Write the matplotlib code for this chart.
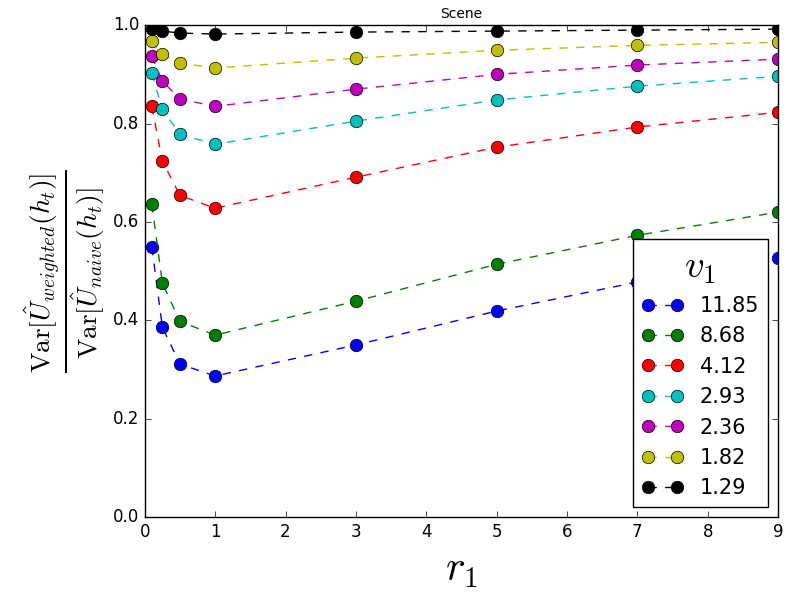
import matplotlib
matplotlib.use("Agg")
import matplotlib.pyplot as plt

plt.style.use('classic')

r1 = [0.1, 0.25, 0.5, 1, 3, 5, 7, 9]
v1_labels = ['11.85', '8.68', '4.12', '2.93', '2.36', '1.82', '1.29']
colors = ['b', 'g', 'r', 'c', 'm', 'y', 'k']

series = [
    [0.549, 0.386, 0.311, 0.287, 0.350, 0.419, 0.478, 0.526],
    [0.636, 0.476, 0.398, 0.370, 0.439, 0.514, 0.573, 0.620],
    [0.835, 0.724, 0.654, 0.628, 0.691, 0.752, 0.793, 0.823],
    [0.902, 0.829, 0.778, 0.758, 0.805, 0.848, 0.876, 0.896],
    [0.937, 0.886, 0.850, 0.835, 0.870, 0.900, 0.919, 0.931],
    [0.967, 0.941, 0.923, 0.913, 0.933, 0.949, 0.959, 0.965],
    [0.992, 0.988, 0.984, 0.982, 0.986, 0.988, 0.990, 0.992],
]

fig = plt.figure(figsize=(8, 6), dpi=100, facecolor='white')
ax = fig.add_axes([0.181, 0.138, 0.7915, 0.82])
for ys, c, lab in zip(series, colors, v1_labels):
    ax.plot(r1, ys, '--o', color=c, markersize=9, label=lab)

ax.set_xlim(0, 9)
ax.set_ylim(0, 1)
ax.set_title('Scene', fontsize=10)
ax.set_xlabel(r'$r_1$', fontsize=30)
ax.set_ylabel(r'$\frac{\mathrm{Var}[\hat{U}_{weighted}(h_t)]}{\mathrm{Var}[\hat{U}_{naive}(h_t)]}$', fontsize=28)
leg = ax.legend(loc='lower right', title=r'$v_1$', fontsize=15, numpoints=2)
leg.get_title().set_fontsize(28)

fig.savefig('out.png', dpi=100, facecolor='white')
